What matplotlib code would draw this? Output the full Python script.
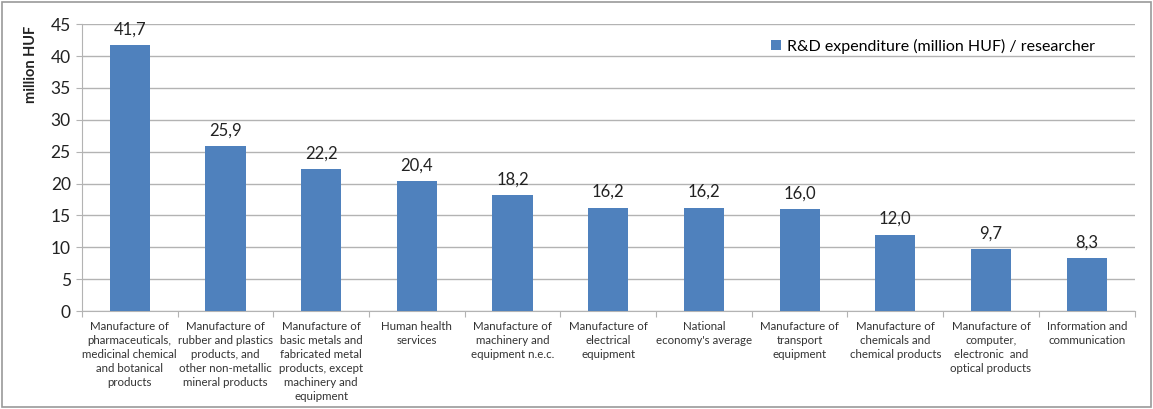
import matplotlib.pyplot as plt
from matplotlib.patches import Rectangle

plt.rcParams['font.family'] = ['Lato', 'DejaVu Sans']

categories = [
    "Manufacture of\npharmaceuticals,\nmedicinal chemical\nand botanical\nproducts",
    "Manufacture of\nrubber and plastics\nproducts, and\nother non-metallic\nmineral products",
    "Manufacture of\nbasic metals and\nfabricated metal\nproducts, except\nmachinery and\nequipment",
    "Human health\nservices",
    "Manufacture of\nmachinery and\nequipment n.e.c.",
    "Manufacture of\nelectrical\nequipment",
    "National\neconomy's average",
    "Manufacture of\ntransport\nequipment",
    "Manufacture of\nchemicals and\nchemical products",
    "Manufacture of\ncomputer,\nelectronic  and\noptical products",
    "Information and\ncommunication",
]
values = [41.7, 25.9, 22.2, 20.4, 18.2, 16.2, 16.2, 16.0, 12.0, 9.7, 8.3]
yticks = [0, 5, 10, 15, 20, 25, 30, 35, 40, 45]
series_name = "R&D expenditure (million HUF) / researcher"

bar_color = '#4f81bd'
grid_color = '#b3b3b3'

fig = plt.figure(figsize=(11.53, 4.09), dpi=100)
ax = fig.add_axes([0.071, 0.2396, 0.913, 0.7014])

x = range(len(values))
ax.bar(x, values, width=0.42, color=bar_color, label=series_name, zorder=3)

for xi, v in zip(x, values):
    ax.text(xi, v + 1.2, f"{v:.1f}".replace('.', ','), ha='center', va='bottom',
            fontsize=12, color='#222222')

ax.set_xlim(-0.5, len(values) - 0.5)
ax.set_ylim(0, 45)
ax.set_yticks(yticks)
ax.set_yticklabels([str(t) for t in yticks], fontsize=12.5, color='#222222')
ax.yaxis.grid(True, color=grid_color, linewidth=1)
ax.set_axisbelow(True)
ax.tick_params(axis='y', length=4, color=grid_color, pad=4)

ax.set_xticks([i + 0.5 for i in range(-1, len(values))])
ax.set_xticklabels([])
ax.tick_params(axis='x', length=4, color=grid_color)
for xi, lab in zip(x, categories):
    ax.text(xi, -1.5, lab, ha='center', va='top', fontsize=8.3, color='#333333',
            linespacing=1.35, transform=ax.transData)

for s in ['top', 'right']:
    ax.spines[s].set_visible(False)
ax.spines['left'].set_color(grid_color)
ax.spines['bottom'].set_color(grid_color)

ax.set_ylabel('million HUF', fontsize=10.5, fontweight='bold', color='#222222', loc='top')
ax.yaxis.set_label_coords(-0.042, 0.995)

leg = ax.legend(loc='upper right', bbox_to_anchor=(0.976, 1.0), frameon=False,
                fontsize=11.5, handlelength=0.6, handleheight=0.6, handletextpad=0.4)

fig.patches.append(Rectangle((0.002, 0.004), 0.996, 0.99, transform=fig.transFigure,
                             fill=False, edgecolor='#9a9a9a', linewidth=1.2))

fig.savefig('out.png', dpi=100)
